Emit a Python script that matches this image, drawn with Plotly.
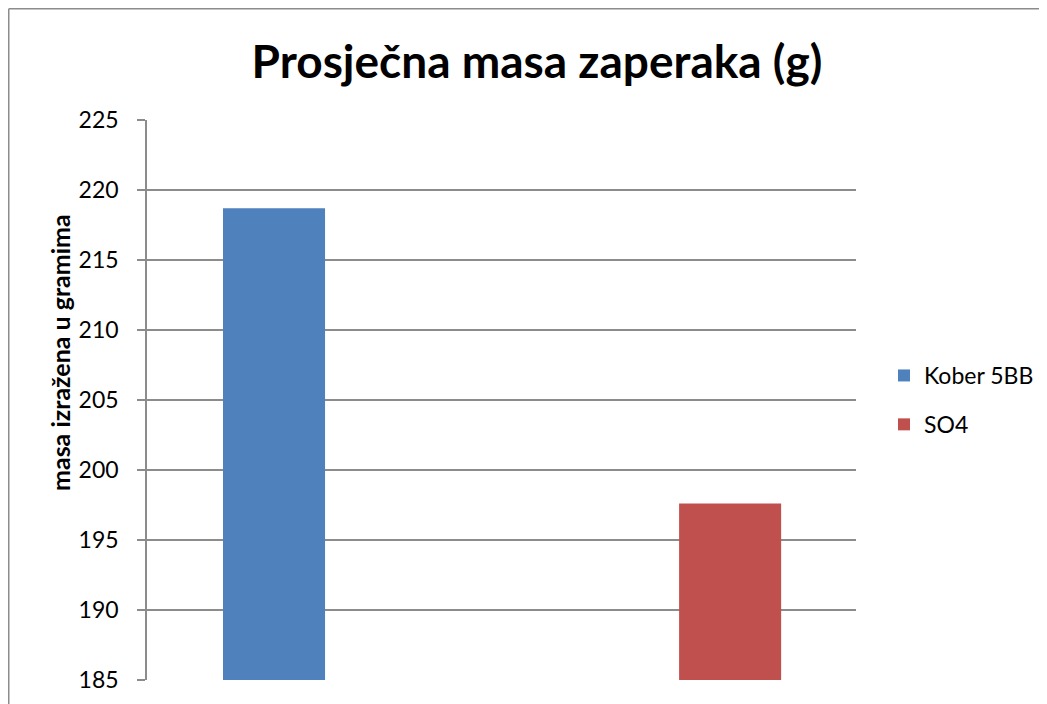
import plotly.graph_objects as go

title = "Prosječna masa zaperaka (g)"
y_title = "masa izražena u gramima"
series = ["Kober 5BB", "SO4"]
values = [218.7, 197.6]
colors = ["#4F81BD", "#C0504D"]
y_ticks = [185, 190, 195, 200, 205, 210, 215, 220, 225]

W, H = 1047, 704
# plot area in figure pixels (page has an 8px body margin)
L, R, T, B = 139, 848, 112, 672
pw, ph = R - L, B - T

fig = go.Figure()
for name, v, c in zip(series, values, colors):
    fig.add_trace(go.Bar(
        x=[name], y=[v], name=name, marker=dict(color=c, line=dict(width=0)),
        width=0.2237, legendgroup=name,
    ))

font_family = "Lato, 'Open Sans', sans-serif"
border = dict(color="#8C8C8C", width=1.5)
fig.update_layout(
    width=W, height=H,
    margin=dict(l=L, r=W - R, t=T, b=H - B, pad=0),
    paper_bgcolor="white", plot_bgcolor="white",
    barmode="overlay",
    font=dict(family=font_family, color="black", size=23),
    title=dict(text="<b>" + title + "</b>", x=529 / W, xanchor="center",
               y=1 - 54 / H, yanchor="middle",
               font=dict(size=46, family=font_family, color="black")),
    showlegend=True,
    legend=dict(x=(876 - L) / pw, xanchor="left", y=0.5, yanchor="middle",
                font=dict(size=23, family=font_family), tracegroupgap=16,
                bgcolor="rgba(0,0,0,0)", itemwidth=30),
    xaxis=dict(type="category", categoryorder="array", categoryarray=series,
               range=[-0.2785, 1.276], showticklabels=False, ticks="",
               showgrid=False, zeroline=False, showline=False),
    yaxis=dict(range=[185, 225], tickvals=y_ticks, showgrid=True,
               gridcolor="#8C8C8C", gridwidth=1.5, zeroline=False,
               showline=True, linecolor="#8C8C8C", linewidth=1.5,
               ticks="outside", ticklen=8, tickcolor="#8C8C8C", tickwidth=1.5,
               ticklabelstandoff=14,
               tickfont=dict(size=23, family=font_family)),
    annotations=[dict(text="<b>" + y_title + "</b>", textangle=-90,
                      xref="paper", yref="paper",
                      x=(52 - L) / pw, y=(B - 345) / ph,
                      xanchor="center", yanchor="middle", showarrow=False,
                      font=dict(size=25, family=font_family, color="black"))],
    shapes=[
        dict(type="line", xref="paper", yref="paper",
             x0=(0.75 - L) / pw, x1=(0.75 - L) / pw,
             y0=(B - 900) / ph, y1=(B - 0.75) / ph, line=border, layer="below"),
        dict(type="line", xref="paper", yref="paper",
             x0=(0.75 - L) / pw, x1=(1200 - L) / pw,
             y0=(B - 0.75) / ph, y1=(B - 0.75) / ph, line=border, layer="below"),
    ],
)

fig.write_html("out.html")
